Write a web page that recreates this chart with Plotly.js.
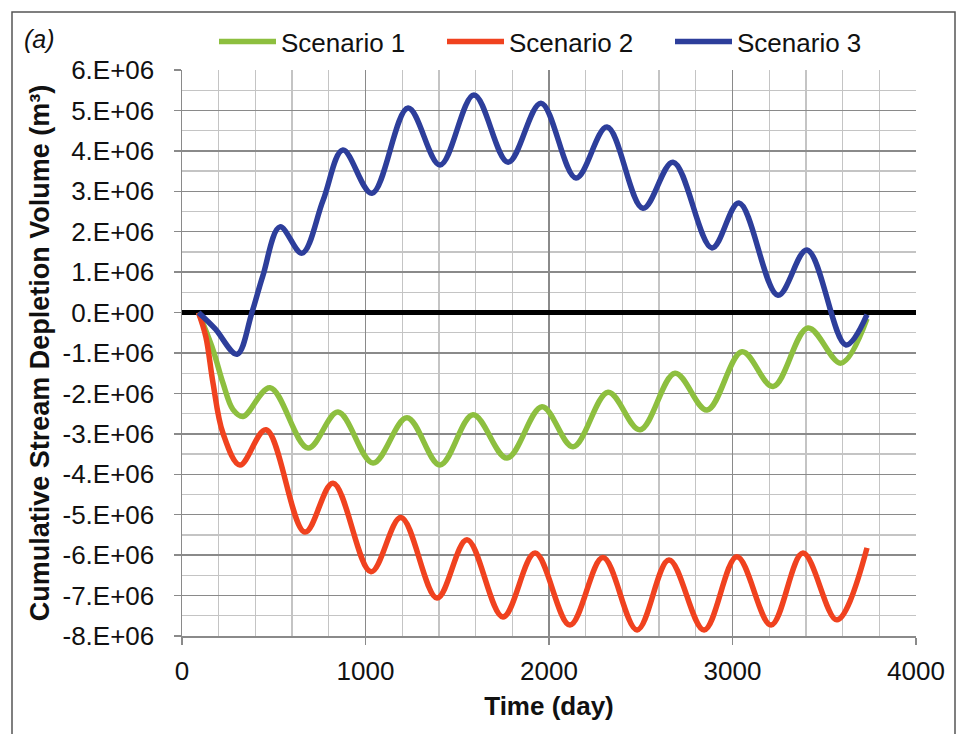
<!DOCTYPE html>
<html>
<head>
<meta charset="utf-8">
<script src="https://cdn.plot.ly/plotly-3.0.1.min.js"></script>
<style>html,body{margin:0;padding:0;background:#fff;}#chart{width:959px;height:734px;}</style>
</head>
<body>
<div id="chart"></div>
<script>
// Time (day) and cumulative stream depletion volume (m^3)
const s1Days = [90, 169, 223, 278, 333, 480, 687, 850, 1041, 1226, 1406, 1586, 1771, 1962, 2131, 2322, 2496, 2687, 2861, 3052, 3221, 3411, 3591, 3733];
const s1Vals = [0, -0.92e6, -1.74e6, -2.4e6, -2.57e6, -1.86e6, -3.35e6, -2.46e6, -3.72e6, -2.6e6, -3.77e6, -2.53e6, -3.6e6, -2.33e6, -3.32e6, -1.97e6, -2.9e6, -1.5e6, -2.41e6, -0.97e6, -1.83e6, -0.38e6, -1.25e6, -0.15e6];

const s2Days = [90, 130, 169, 223, 316, 458, 670, 823, 1030, 1193, 1390, 1553, 1749, 1924, 2114, 2294, 2480, 2654, 2845, 3024, 3210, 3384, 3569, 3733];
const s2Vals = [0, -0.6e6, -1.74e6, -2.98e6, -3.77e6, -2.9e6, -5.43e6, -4.22e6, -6.41e6, -5.07e6, -7.06e6, -5.62e6, -7.53e6, -5.95e6, -7.73e6, -6.06e6, -7.85e6, -6.12e6, -7.85e6, -6.04e6, -7.73e6, -5.95e6, -7.6e6, -5.82e6];

const s3Days = [90, 180, 300, 381, 440, 534, 654, 769, 877, 1035, 1232, 1406, 1591, 1777, 1956, 2147, 2316, 2512, 2676, 2888, 3035, 3248, 3406, 3618, 3733];
const s3Vals = [0, -0.4e6, -1.03e6, 0, 0.9e6, 2.12e6, 1.47e6, 2.78e6, 4.02e6, 2.95e6, 5.06e6, 3.65e6, 5.38e6, 3.72e6, 5.18e6, 3.33e6, 4.59e6, 2.58e6, 3.72e6, 1.6e6, 2.71e6, 0.43e6, 1.55e6, -0.8e6, -0.05e6];

const seriesNames = ["Scenario 1", "Scenario 2", "Scenario 3"];
const seriesColors = ["#8dbf3f", "#f0421f", "#2d3e9b"];

const yTickVals = [-8e6, -7e6, -6e6, -5e6, -4e6, -3e6, -2e6, -1e6, 0, 1e6, 2e6, 3e6, 4e6, 5e6, 6e6];
const yTickText = ["-8.E+06", "-7.E+06", "-6.E+06", "-5.E+06", "-4.E+06", "-3.E+06", "-2.E+06", "-1.E+06", "0.E+00", "1.E+06", "2.E+06", "3.E+06", "4.E+06", "5.E+06", "6.E+06"];
const xTickVals = [0, 1000, 2000, 3000, 4000];

const FONT = "Liberation Sans, Arial, sans-serif";

const traces = [
  {x: s1Days, y: s1Vals}, {x: s2Days, y: s2Vals}, {x: s3Days, y: s3Vals}
].map((d, i) => ({
  x: d.x, y: d.y, type: "scatter", mode: "lines", name: seriesNames[i],
  line: {color: seriesColors[i], width: 5.5, shape: "spline", smoothing: 1}
}));

const layout = {
  width: 959, height: 734,
  margin: {l: 182, r: 43, t: 70, b: 98, autoexpand: false},
  paper_bgcolor: "#fff", plot_bgcolor: "#fff",
  font: {family: FONT, size: 26, color: "#111"},
  showlegend: true,
  legend: {
    orientation: "h", xref: "container", yref: "container",
    x: 214/959, xanchor: "left", y: 1 - 18/734, yanchor: "top",
    font: {family: FONT, size: 26, color: "#111"},
    entrywidth: 156, entrywidthmode: "pixels", itemwidth: 57,
    bgcolor: "rgba(0,0,0,0)", tracegroupgap: 0
  },
  xaxis: {
    range: [0, 4000], tickvals: xTickVals, ticks: "outside", ticklen: 7, tickwidth: 1.5, tickcolor: "#8a8a8a",
    showgrid: true, gridcolor: "#8a8a8a", gridwidth: 1.5,
    minor: {dtick: 200, showgrid: true, gridcolor: "#c4c4c4", gridwidth: 1.3, ticks: ""},
    showline: true, linecolor: "#8a8a8a", linewidth: 1.5,
    zeroline: false, ticklabelstandoff: 4,
    tickfont: {family: FONT, size: 26, color: "#111"},
    title: {text: "<b>Time (day)</b>", font: {family: FONT, size: 26, color: "#111"}, standoff: 12}
  },
  yaxis: {
    range: [-8e6, 6e6], tickvals: yTickVals, ticktext: yTickText, ticks: "outside", ticklen: 7, tickwidth: 1.5, tickcolor: "#8a8a8a",
    showgrid: true, gridcolor: "#8a8a8a", gridwidth: 1.5,
    minor: {dtick: 5e5, showgrid: true, gridcolor: "#c4c4c4", gridwidth: 1.3, ticks: ""},
    showline: true, linecolor: "#8a8a8a", linewidth: 1.5,
    zeroline: true, zerolinecolor: "#000", zerolinewidth: 4.5,
    ticklabelstandoff: 14,
    tickfont: {family: FONT, size: 26, color: "#111"},
    title: {text: "<b>Cumulative Stream Depletion Volume (m³)</b>", font: {family: FONT, size: 27, color: "#111"}, standoff: 5}
  },
  shapes: [{
    type: "rect", xref: "paper", yref: "paper",
    x0: (12-182)/734, x1: (955-182)/734, y0: (636-745)/566, y1: (636-12)/566,
    line: {color: "#555", width: 1.5}, fillcolor: "rgba(0,0,0,0)", layer: "below"
  }],
  annotations: [{
    text: "<i>(a)</i>", xref: "paper", yref: "paper",
    x: (39-182)/734, y: (636-39)/566, xanchor: "center", yanchor: "middle",
    showarrow: false, font: {family: FONT, size: 25, color: "#111"}
  }]
};

Plotly.newPlot("chart", traces, layout, {displayModeBar: false, staticPlot: true});
</script>
</body>
</html>
